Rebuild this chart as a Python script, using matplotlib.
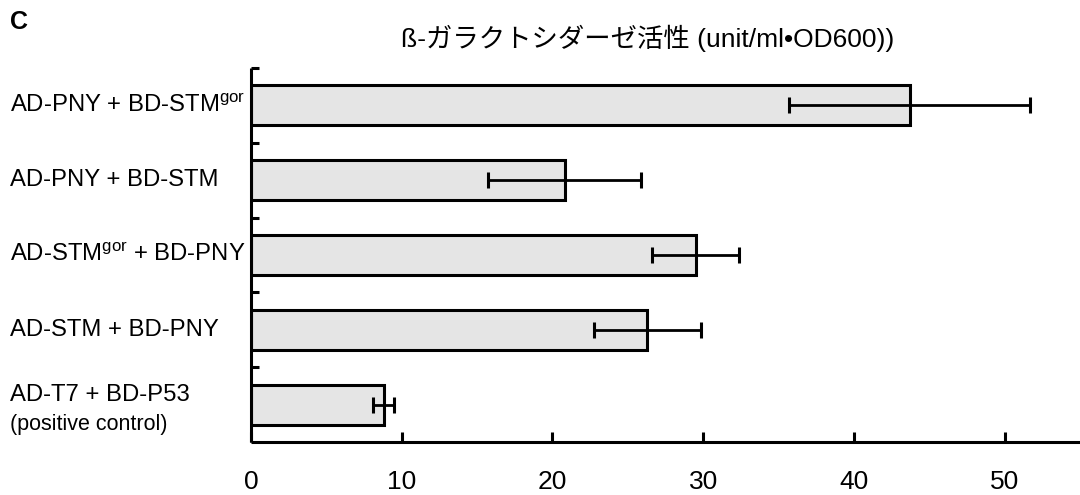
import matplotlib
matplotlib.use("Agg")
import matplotlib.pyplot as plt

plt.rcParams['font.family'] = ['Liberation Sans', 'Noto Sans CJK JP', 'DejaVu Sans']
plt.rcParams['mathtext.fontset'] = 'custom'
plt.rcParams['mathtext.rm'] = 'Liberation Sans'
plt.rcParams['mathtext.default'] = 'regular'

# data, top to bottom
labels = ['AD-PNY + BD-STM$^{gor}$', 'AD-PNY + BD-STM', 'AD-STM$^{gor}$ + BD-PNY',
          'AD-STM + BD-PNY', 'AD-T7 + BD-P53']
sublabel = '(positive control)'
values = [43.7, 20.8, 29.5, 26.3, 8.8]
errors = [8.0, 5.05, 2.9, 3.55, 0.7]
xticks = [0, 10, 20, 30, 40, 50]
title = 'ß-ガラクトシダーゼ活性 (unit/ml•OD600))'

fig = plt.figure(figsize=(10.8, 4.95), dpi=100)
ax = fig.add_axes([0.2324, 0.1071, 0.7676, 0.7556])

pos = list(range(len(values)))
ax.barh(pos, values, height=0.535, color='#e5e5e5', edgecolor='black', linewidth=2.2,
        xerr=errors, error_kw=dict(ecolor='black', elinewidth=2.0, capsize=5.5, capthick=2.2), zorder=2)

ax.set_xlim(0, 55)
ax.set_ylim(len(values) - 0.5, -0.5)
ax.set_xticks(xticks)
ax.set_xticklabels([str(t) for t in xticks], fontsize=19)
# ticks on the boundaries between categories
ax.set_yticks([p - 0.5 for p in pos])
ax.set_yticklabels([])
ax.tick_params(axis='y', direction='in', length=6, width=2.2)
ax.tick_params(axis='x', direction='in', length=7.2, width=2.2, pad=20)

for s in ['top', 'right']:
    ax.spines[s].set_visible(False)
for s in ['left', 'bottom']:
    ax.spines[s].set_linewidth(2.2)
    ax.spines[s].set_capstyle('butt')

# category labels, left aligned
for i, lab in enumerate(labels):
    if i == len(labels) - 1:
        ax.annotate(lab, xy=(10 / 1080, i), xycoords=('figure fraction', 'data'),
                    xytext=(0, 7), textcoords='offset points', ha='left', va='center', fontsize=17.2)
        ax.annotate(sublabel, xy=(10 / 1080, i), xycoords=('figure fraction', 'data'),
                    xytext=(0, -14.5), textcoords='offset points', ha='left', va='center', fontsize=15.5)
    else:
        ax.annotate(lab, xy=(10 / 1080, i), xycoords=('figure fraction', 'data'),
                    ha='left', va='center', fontsize=17.2)

fig.text(0.6, 1 - 38 / 495, title, ha='center', va='center', fontsize=19)
fig.text(10 / 1080, 1 - 22 / 495, 'C', ha='left', va='center', fontsize=18, fontweight='bold')

fig.savefig('out.png', dpi=100)
